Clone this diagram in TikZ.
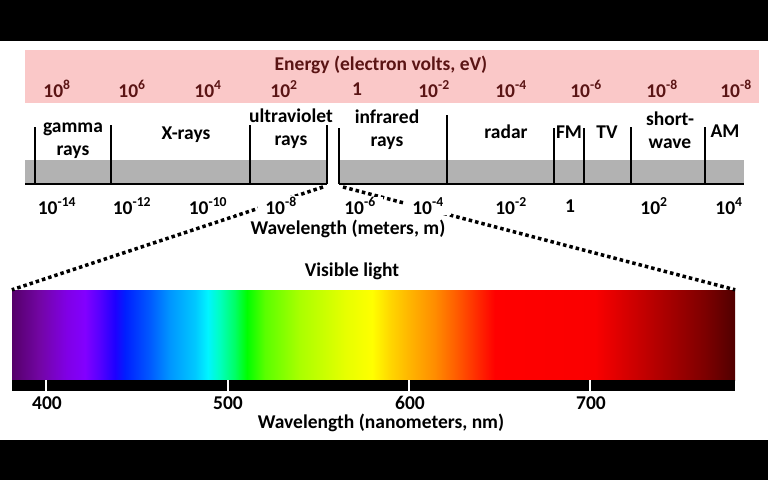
\documentclass[tikz,border=0pt]{standalone}
\usepackage{fontspec}
\setmainfont{Carlito}

\definecolor{bandpink}{RGB}{250,200,200}
\definecolor{bandgray}{RGB}{178,178,178}
\definecolor{evtext}{RGB}{90,20,20}

% visible light, 25bp..75bp is the bar itself
\pgfdeclarehorizontalshading{visible}{100bp}{%
  rgb(0bp)=(.333,0,.412); rgb(25bp)=(.333,0,.412);
  rgb(26.94bp)=(.451,.02,.647); rgb(28.8bp)=(.502,0,.902);
  rgb(30.05bp)=(.51,0,1); rgb(31.09bp)=(.333,0,1);
  rgb(32.12bp)=(.118,0,1); rgb(32.81bp)=(0,.118,1);
  rgb(34.54bp)=(0,.353,1); rgb(35.93bp)=(0,.588,1);
  rgb(37.66bp)=(0,.784,1); rgb(38.55bp)=(0,.961,1);
  rgb(39.38bp)=(0,1,.745); rgb(40.42bp)=(0,1,.392);
  rgb(41.25bp)=(0,1,0); rgb(42.5bp)=(.353,1,0);
  rgb(44.92bp)=(.667,1,0); rgb(48.03bp)=(.902,1,0);
  rgb(49.9bp)=(1,1,0); rgb(51.14bp)=(1,.843,0);
  rgb(52.52bp)=(1,.706,0); rgb(54.25bp)=(1,.549,0);
  rgb(55.64bp)=(1,.373,0); rgb(57.23bp)=(1,.157,0);
  rgb(58.4bp)=(1,0,0); rgb(65.32bp)=(.98,0,0);
  rgb(67.39bp)=(.843,0,0); rgb(70.16bp)=(.667,0,0);
  rgb(72.92bp)=(.49,0,0); rgb(75bp)=(.314,0,0);
  rgb(100bp)=(.314,0,0)}

\newcommand{\tenpow}[1]{10\textsuperscript{#1}}
\newcommand{\bandline}[2]{
    \draw[line width=2pt] (#1,#2) -- (#1,184);
}

\tikzset{
    lab/.style={font=\bfseries\fontsize{19.5}{23}\selectfont, align=center, inner sep=1pt},
    wlnum/.style={lab, fill=white, inner xsep=7pt},
    dots/.style={line width=3.5pt, dash pattern=on 3.5pt off 3pt}
}

\begin{document}
\begin{tikzpicture}[yscale=-1, x=1pt, y=1pt]

\useasboundingbox (0,0) rectangle (768,480);
\fill[white] (0,0) rectangle (768,480);
\fill[black] (0,0) rectangle (768,41);
\fill[black] (0,440) rectangle (768,480);

% Energy band
\fill[bandpink] (25,50) rectangle (759,103);
\node[lab, text=evtext] (energy) at (381,65) {Energy (electron volts, eV)};
\foreach \x/\t [count=\i] in {57/\tenpow{8}, 132/\tenpow{6}, 208/\tenpow{4},
        284/\tenpow{2}, 357/1, 434/\tenpow{-2}, 511/\tenpow{-4},
        586/\tenpow{-6}, 662/\tenpow{-8}, 736/\tenpow{-8}}
    \node[lab, text=evtext] (en\i) at (\x,89) {\t};

% Gray strip with the gap for visible light
\fill[bandgray] (25,160) rectangle (327,184);
\fill[bandgray] (339,160) rectangle (744,184);
\draw[line width=2pt] (25,184) -- (327,184);
\draw[line width=2pt] (339,184) -- (744,184);

\bandline{35}{127}
\bandline{111}{125}
\bandline{250}{125}
\bandline{327}{125}
\bandline{339}{128}
\bandline{447}{115}
\bandline{554}{128}
\bandline{584}{128}
\bandline{631}{127}
\bandline{705}{127}

% Band names
\node[lab] (gamma) at (73,141) {gamma\\rays};
\node[lab] (xray) at (186,135) {X-rays};
\node[lab] (uv) at (291,129) {ultraviolet\\rays};
\node[lab] (ir) at (387,130) {infrared\\rays};
\node[lab] (radar) at (506,132) {radar};
\node[lab] (fm) at (569,132) {FM};
\node[lab] (tv) at (607,132) {TV};
\node[lab] (sw) at (670,130) {short-\\wave};
\node[lab] (am) at (725,131) {AM};

% Visible light bar
\node[shade, shading=visible, minimum width=723pt, minimum height=90pt,
    inner sep=0pt] (spec) at (373.5,335) {};
\fill[black] (12,380) rectangle (735,391);
\foreach \x in {46,228,409,590}
    \draw[white, line width=2pt] (\x,380) -- (\x,391);

% Dotted zoom lines
\coordinate (gapL) at (323,187);
\coordinate (gapR) at (343,187);
\draw[dots] (gapL) -- (spec.north west);
\draw[dots] (gapR) -- (spec.north east);

% Wavelength in meters
\foreach \x/\t [count=\i] in {57/\tenpow{-14}, 132/\tenpow{-12}, 208/\tenpow{-10},
        281/\tenpow{-8}, 360/\tenpow{-6}, 428/\tenpow{-4}, 511/\tenpow{-2},
        570/1, 654/\tenpow{2}, 729/\tenpow{4}}
    \node[wlnum] (wl\i) at (\x,206) {\t};
\node[lab] (wlm) at (348,229) {Wavelength (meters, m)};

\node[lab] (vis) at (352,271) {Visible light};

% Wavelength in nanometers
\foreach \x/\t [count=\i] in {47/400, 228/500, 410/600, 591/700}
    \node[lab] (nm\i) at (\x,403) {\t};
\node[lab] (wlnm) at (381,423) {Wavelength (nanometers, nm)};

\end{tikzpicture}
\end{document}
